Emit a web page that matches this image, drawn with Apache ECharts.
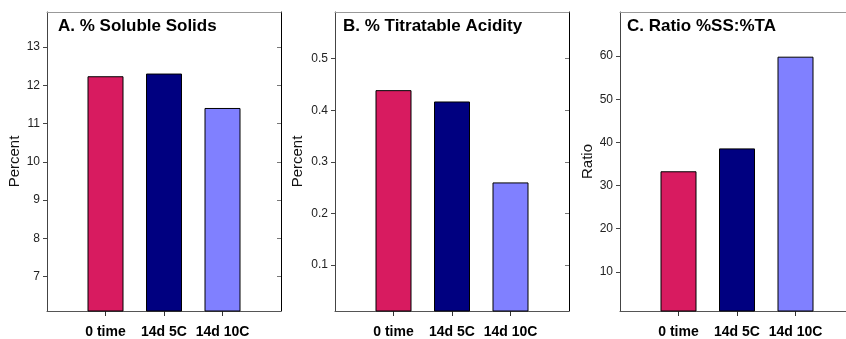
<!DOCTYPE html>
<html>
<head>
<meta charset="utf-8">
<script src="https://cdn.jsdelivr.net/npm/echarts@6/dist/echarts.min.js"></script>
<style>
  html, body { margin: 0; padding: 0; background: #fff; overflow: hidden; }
  #chart { width: 880px; height: 339px; }
</style>
</head>
<body>
<div id="chart"></div>
<script>
const categories = ['0 time', '14d 5C', '14d 10C']
const barColors = ['#D81B60', '#000080', '#8080FF']

const solubleSolids = [12.24, 12.31, 11.41]
const titratableAcidity = [0.439, 0.417, 0.26]
const ratioSSTA = [33.3, 38.6, 59.85]

const ticksA = [7, 8, 9, 10, 11, 12, 13]
const ticksB = [0.1, 0.2, 0.3, 0.4, 0.5]
const ticksC = [10, 20, 30, 40, 50, 60]

const font = 'Arial, "Liberation Sans", sans-serif'

// the third panel runs past the right edge of the picture, so the canvas is wider than the window
const panels = [
  { title: 'A. % Soluble Solids', name: 'Percent', data: solubleSolids, ticks: ticksA, min: 6.1, max: 13.92, left: 47, titleLeft: 58, nameGap: 25 },
  { title: 'B. % Titratable Acidity', name: 'Percent', data: titratableAcidity, ticks: ticksB, min: 0.0106, max: 0.5906, left: 335, titleLeft: 343, nameGap: 30 },
  { title: 'C. Ratio %SS:%TA', name: 'Ratio', data: ratioSSTA, ticks: ticksC, min: 0.93, max: 70.2, left: 620, titleLeft: 627, nameGap: 25 }
]

const chart = echarts.init(document.getElementById('chart'), null, { renderer: 'canvas' })

const option = {
  animation: false,
  backgroundColor: '#fff',
  textStyle: { fontFamily: font },
  title: panels.map(p => ({
    text: p.title,
    left: p.titleLeft,
    top: 18,
    padding: 0,
    textStyle: { fontSize: 17, fontWeight: 'bold', color: '#000', fontFamily: font }
  })),
  grid: panels.map(p => ({ left: p.left, top: 12, width: 234, height: 301, containLabel: false })),
  xAxis: [],
  yAxis: [],
  series: []
}

panels.forEach((p, i) => {
  // bottom axis with category ticks
  option.xAxis.push({
    type: 'value', gridIndex: i, min: 0, max: 4, position: 'bottom',
    splitLine: { show: false },
    axisLine: { show: true, lineStyle: { color: '#555', width: 1 } },
    axisTick: { show: true, length: 5, customValues: [1, 2, 3], lineStyle: { color: '#333' } },
    axisLabel: {
      customValues: [1, 2, 3], margin: 14,
      formatter: v => categories[v - 1] || '',
      fontSize: 14, fontWeight: 'bold', color: '#000', fontFamily: font
    }
  })
  // top border
  option.xAxis.push({
    type: 'value', gridIndex: i, min: 0, max: 4, position: 'top',
    splitLine: { show: false },
    axisLine: { show: true, onZero: false, lineStyle: { color: '#999', width: 1 } },
    axisTick: { show: false }, axisLabel: { show: false }
  })
  option.yAxis.push({
    type: 'value', gridIndex: i, min: p.min, max: p.max, position: 'left',
    name: p.name, nameLocation: 'middle', nameRotate: 90, nameGap: p.nameGap,
    nameTextStyle: { fontSize: 15, color: '#111', fontFamily: font },
    splitLine: { show: false },
    axisLine: { show: true, onZero: false, lineStyle: { color: '#444', width: 1 } },
    axisTick: { show: true, length: 4, customValues: p.ticks, lineStyle: { color: '#444' } },
    axisLabel: { customValues: p.ticks, margin: 7, fontSize: 12, color: '#222', fontFamily: font }
  })
  option.yAxis.push({
    type: 'value', gridIndex: i, min: p.min, max: p.max, position: 'right',
    splitLine: { show: false },
    axisLine: { show: true, onZero: false, lineStyle: { color: '#000', width: 1 } },
    axisTick: { show: true, inside: true, length: 4, customValues: p.ticks, lineStyle: { color: '#777' } },
    axisLabel: { show: false }
  })
  option.series.push({
    type: 'bar',
    xAxisIndex: i * 2,
    yAxisIndex: i * 2,
    barWidth: 36,
    data: p.data.map((v, k) => ({
      value: [k + 1, v],
      itemStyle: { color: barColors[k], borderColor: '#000', borderWidth: 1 }
    }))
  })
})

chart.setOption(option)
</script>
</body>
</html>
